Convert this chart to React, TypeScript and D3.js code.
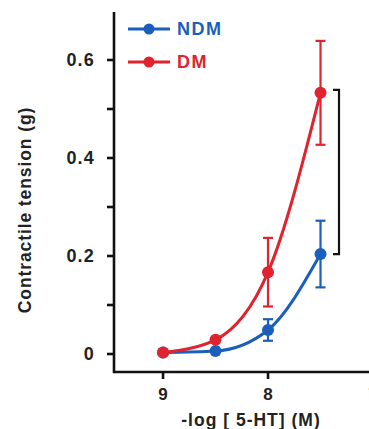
import React from "react";
import * as d3 from "d3";

const doses = [9, 8.5, 8, 7.5];
const ndmMean = [0.003, 0.006, 0.049, 0.204];
const ndmErr = [0, 0, 0.022, 0.068];
const dmMean = [0.003, 0.029, 0.167, 0.533];
const dmErr = [0, 0, 0.07, 0.106];
const yTicksMajor = [0, 0.2, 0.4, 0.6];
const yTicksMinor = [0.1, 0.3, 0.5];
const xTicks = [9, 8, 7];

const BLUE = "#1b5fbd";
const RED = "#e1222f";
const FONT = "'Liberation Sans', Arial, sans-serif";

export default function App() {
  const x = d3.scaleLinear().domain([9.467, 7]).range([114, 373]);
  const y = d3.scaleLinear().domain([0, 0.6]).range([354, 60]);
  const axisY = 372;
  const axisX = 114;

  const line = d3
    .line<number>()
    .x((d, i) => x(doses[i]))
    .y((d) => y(d))
    .curve(d3.curveMonotoneX);

  const series = [
    { name: "NDM", mean: ndmMean, err: ndmErr, color: BLUE },
    { name: "DM", mean: dmMean, err: dmErr, color: RED },
  ];

  const last = doses.length - 1;
  const bx = 339;
  const bTop = y(dmMean[last]) - 3;
  const bBot = y(ndmMean[last]);

  return (
    <svg
      width={369}
      height={429}
      style={{ position: "absolute", left: 0, top: 0, background: "#fff" }}
      fontFamily={FONT}
    >
      {/* axes */}
      <line x1={axisX} x2={axisX} y1={12} y2={axisY + 1} stroke="#111" strokeWidth={2.6} />
      <line x1={axisX - 1} x2={369} y1={axisY} y2={axisY} stroke="#111" strokeWidth={2.6} />
      {[...yTicksMajor, ...yTicksMinor].map((t) => (
        <line key={"yt" + t} x1={axisX - 7} x2={axisX} y1={y(t)} y2={y(t)} stroke="#111" strokeWidth={2.6} />
      ))}
      {yTicksMajor.map((t) => (
        <text
          key={"yl" + t}
          x={95}
          y={y(t)}
          dy="0.36em"
          textAnchor="end"
          fontSize={18}
          fontWeight="bold"
          letterSpacing={1.2}
          fill="#222"
        >
          {t === 0 ? "0" : t.toFixed(1)}
        </text>
      ))}
      {xTicks.map((t) => (
        <g key={"xt" + t}>
          <line x1={x(t)} x2={x(t)} y1={axisY} y2={axisY + 7} stroke="#111" strokeWidth={2.6} />
          <text x={x(t)} y={400} textAnchor="middle" fontSize={17} fontWeight="bold" fill="#222">
            {t}
          </text>
        </g>
      ))}
      <text x={251} y={426} textAnchor="middle" fontSize={17.5} fontWeight="bold" fill="#222" letterSpacing={1}>
        -log [ 5-HT] (M)
      </text>
      <text
        transform={`translate(31,210) rotate(-90)`}
        textAnchor="middle"
        fontSize={17.5}
        fontWeight="bold"
        fill="#222"
        letterSpacing={0.9}
      >
        Contractile tension (g)
      </text>

      {/* series */}
      {series.map((s) => (
        <g key={s.name}>
          <path d={line(s.mean) || ""} fill="none" stroke={s.color} strokeWidth={3} />
          {s.mean.map((m, i) =>
            s.err[i] > 0 ? (
              <g key={"e" + i} stroke={s.color} strokeWidth={2.2}>
                <line x1={x(doses[i])} x2={x(doses[i])} y1={y(m + s.err[i])} y2={y(m - s.err[i])} />
                <line x1={x(doses[i]) - 5} x2={x(doses[i]) + 5} y1={y(m + s.err[i])} y2={y(m + s.err[i])} />
                <line x1={x(doses[i]) - 5} x2={x(doses[i]) + 5} y1={y(m - s.err[i])} y2={y(m - s.err[i])} />
              </g>
            ) : null
          )}
          {s.mean.map((m, i) => (
            <circle key={"c" + i} cx={x(doses[i])} cy={y(m)} r={6} fill={s.color} />
          ))}
        </g>
      ))}

      {/* significance bracket */}
      <path
        d={`M${bx - 6},${bTop} L${bx},${bTop} L${bx},${bBot} L${bx - 6},${bBot}`}
        fill="none"
        stroke="#111"
        strokeWidth={2.2}
      />

      {/* legend */}
      {series.map((s, i) => {
        const ly = i === 0 ? 29 : 62;
        return (
          <g key={"lg" + s.name}>
            <line x1={128} x2={170} y1={ly} y2={ly} stroke={s.color} strokeWidth={3} />
            <circle cx={149} cy={ly} r={5.5} fill={s.color} />
            <text x={177} y={ly} dy="0.36em" fontSize={18} fontWeight="bold" fill={s.color} letterSpacing={1.5}>
              {s.name}
            </text>
          </g>
        );
      })}
    </svg>
  );
}
